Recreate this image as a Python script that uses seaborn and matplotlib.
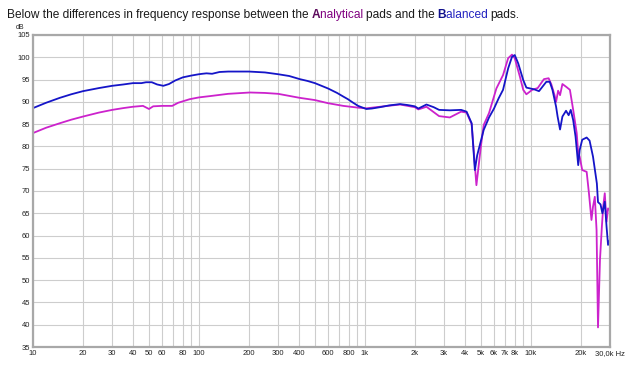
import numpy as np
import pandas as pd
import matplotlib
matplotlib.use("Agg")
import matplotlib.pyplot as plt
from matplotlib.ticker import FixedLocator, FixedFormatter, NullFormatter
import seaborn as sns

# Balanced pads (blue)
freq_balanced = [10, 12, 14.5, 17, 20, 25, 30, 35, 40, 45, 48, 52, 56, 61, 66, 72, 80, 90,
                 100, 105, 111, 120, 133, 150, 200, 250, 300, 350, 405, 450, 500, 600,
                 680, 740, 790, 850, 910, 1020, 1100, 1230, 1400, 1630, 1800, 2000,
                 2100, 2350, 2600, 2800, 3250, 3800, 4100, 4400, 4600, 4750, 5200,
                 5600, 6000, 6400, 6800, 7300, 7700, 8000, 8400, 9000, 9400, 10500,
                 11200, 12400, 13000, 13500, 14200, 14500, 15000, 15500, 16300, 16900,
                 17400, 18000, 18600, 19300, 19700, 20400, 21700, 22600, 23700, 25000,
                 25400, 26300, 27000, 27900, 28600, 29200, 29900]
db_balanced = [88.6, 89.8, 90.9, 91.7, 92.4, 93.1, 93.6, 93.9, 94.2, 94.2, 94.4, 94.4, 93.9,
               93.6, 94.0, 94.8, 95.5, 95.9, 96.2, 96.3, 96.4, 96.3, 96.7, 96.8, 96.8,
               96.6, 96.2, 95.8, 95.1, 94.7, 94.2, 93.0, 92.0, 91.2, 90.6, 89.8, 89.1,
               88.4, 88.5, 88.8, 89.2, 89.5, 89.3, 89.0, 88.5, 89.4, 88.8, 88.2, 88.1,
               88.2, 87.8, 85.2, 74.7, 78.0, 83.7, 86.5, 88.5, 90.8, 92.7, 97.5, 100.1,
               100.5, 98.6, 94.9, 93.2, 92.8, 92.4, 94.5, 94.5, 92.7, 88.9, 86.7, 83.8,
               86.7, 88.0, 87.0, 88.2, 85.9, 82.2, 75.8, 79.2, 81.5, 82.0, 81.3, 77.7,
               71.7, 67.5, 67.0, 65.0, 67.6, 62.0, 57.9, 59.0]

# Analytical pads (magenta)
freq_analytical = [10, 12, 14.5, 17, 20, 25, 30, 35, 40, 46, 50, 53, 60, 69, 75, 88, 100,
                   117, 150, 203, 250, 300, 405, 500, 600, 740, 910, 1020, 1230, 1630,
                   2000, 2100, 2350, 2800, 3250, 3800, 4100, 4400, 4700, 5000, 5200,
                   5600, 6200, 6800, 7300, 7700, 8000, 8600, 9000, 9400, 10200, 11000,
                   12000, 12800, 13300, 13900, 14200, 14600, 15000, 15500, 16300, 17200,
                   18000, 18900, 19300, 19700, 20400, 21700, 22400, 23200, 23700, 24300,
                   24900, 25400, 26100, 26800, 27300, 27900, 28600, 29200, 29900]
db_analytical = [83.0, 84.2, 85.2, 86.0, 86.7, 87.6, 88.2, 88.6, 88.9, 89.1, 88.4, 89.0,
                 89.1, 89.1, 89.8, 90.6, 91.0, 91.3, 91.8, 92.1, 92.0, 91.8, 90.9, 90.4,
                 89.7, 89.1, 88.7, 88.55, 88.9, 89.4, 88.8, 88.3, 88.9, 86.8, 86.5,
                 87.8, 87.6, 85.0, 71.3, 80.0, 84.8, 87.5, 93.0, 96.0, 99.8, 100.6,
                 99.8, 95.6, 92.7, 91.7, 92.7, 93.1, 95.1, 95.3, 93.9, 91.5, 90.0, 92.5,
                 91.5, 94.0, 93.4, 92.7, 88.2, 83.0, 78.5, 77.7, 74.7, 74.3, 69.5, 63.5,
                 66.5, 68.7, 61.2, 39.4, 54.5, 62.0, 66.5, 69.5, 63.1, 66.1, 65.7]

x_ticks = [10, 20, 30, 40, 50, 60, 80, 100, 200, 300, 400, 600, 800, 1000, 2000,
           3000, 4000, 5000, 6000, 7000, 8000, 10000, 20000, 30000]
x_tick_labels = ["10", "20", "30", "40", "50", "60", "80", "100", "200", "300", "400",
                 "600", "800", "1k", "2k", "3k", "4k", "5k", "6k", "7k", "8k", "10k",
                 "20k", "30,0k Hz"]
y_ticks = [35, 40, 45, 50, 55, 60, 65, 70, 75, 80, 85, 90, 95, 100, 105]

sns.set_style("white")
plt.rcParams['font.family'] = ['Liberation Sans', 'DejaVu Sans']

fig = plt.figure(figsize=(6.3, 3.7), dpi=100)
ax = fig.add_axes([33 / 630, 1 - 347 / 370, 577 / 630, 312 / 370])

df_b = pd.DataFrame({"Hz": freq_balanced, "dB": db_balanced})
df_a = pd.DataFrame({"Hz": freq_analytical, "dB": db_analytical})

sns.lineplot(data=df_a, x="Hz", y="dB", ax=ax, color="#cc22cc", lw=1.3,
             estimator=None, sort=False)
sns.lineplot(data=df_b, x="Hz", y="dB", ax=ax, color="#1515c8", lw=1.3,
             estimator=None, sort=False)

ax.set_xscale("log")
ax.set_xlim(10, 30000)
ax.set_ylim(35, 105)

# grid on every 1..9 multiple of each decade
grid_pos = [m * d for d in [10, 100, 1000, 10000] for m in range(1, 10) if m * d <= 30000]
ax.xaxis.set_major_locator(FixedLocator(x_ticks))
ax.xaxis.set_major_formatter(FixedFormatter(x_tick_labels))
ax.xaxis.set_minor_locator(FixedLocator(grid_pos))
ax.xaxis.set_minor_formatter(NullFormatter())
ax.set_yticks(y_ticks)
ax.grid(True, which="both", color="#cdcdcd", lw=0.8)
ax.tick_params(which="both", length=0, labelsize=5.5, pad=2, labelcolor="#222222")
ax.set_xlabel("")
ax.set_ylabel("")
for s in ax.spines.values():
    s.set_color("#a8a8a8")
    s.set_linewidth(1.6)

fig.text(20 / 630, 1 - 29 / 370, "dB", fontsize=5, color="#222222", ha="center")

# multi-coloured title line
pieces = [("Below the differences in frequency response between the ", "#1a1a1a", "normal"),
          ("A", "#5c0a5c", "bold"),
          ("nalytical ", "#800080", "normal"),
          ("pads and the ", "#1a1a1a", "normal"),
          ("B", "#10108c", "bold"),
          ("alanced ", "#2222c0", "normal"),
          ("pads.", "#1a1a1a", "normal")]
fig.canvas.draw()
renderer = fig.canvas.get_renderer()
fs = 8.6
xpix = 7
for txt, col, wt in pieces:
    probe = fig.text(0, 0, txt + "|", fontsize=fs, fontweight=wt)
    bar = fig.text(0, 0, "|", fontsize=fs, fontweight=wt)
    w = probe.get_window_extent(renderer).width - bar.get_window_extent(renderer).width
    probe.remove()
    bar.remove()
    fig.text(xpix / 630, 1 - 18 / 370, txt, fontsize=fs, fontweight=wt, color=col,
             va="baseline", ha="left")
    xpix += w - 0.3

fig.savefig("out.png", dpi=100)
